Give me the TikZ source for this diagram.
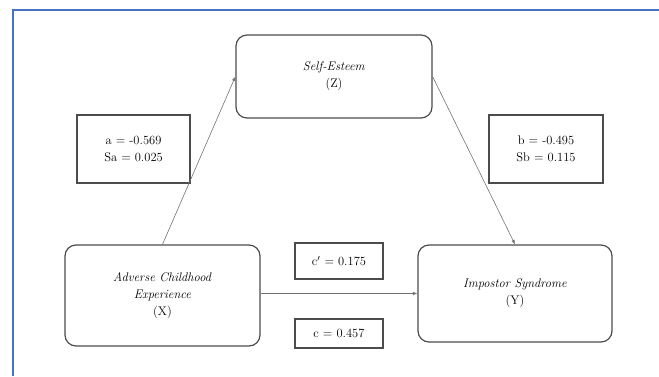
\documentclass[tikz,border=0pt]{standalone}
\usetikzlibrary{arrows.meta,positioning}
\definecolor{frameblue}{RGB}{68,114,196}
\begin{document}
\begin{tikzpicture}[
x=1pt, y=-1pt,
font=\fontsize{12.5}{17}\selectfont,
var/.style={draw=black!70, line width=1.2pt, rounded corners=11pt, align=center, inner sep=0pt},
coef/.style={draw=black!70, line width=1.2pt, align=center, inner sep=0pt},
arrow/.style={-{Latex[length=4.5pt,width=3.5pt]}, draw=black!55, line width=0.6pt}
]
\useasboundingbox (0,0) rectangle (659,376);
\draw[frameblue, line width=2pt] (13,376) -- (13,10) -- (659,10);
% variables
\node[var, minimum width=196pt, minimum height=83pt] (esteem) at (334,76.5) {\textit{Self-Esteem}\\(Z)};
\node[var, minimum width=195pt, minimum height=101pt] (ace) at (162.5,295.5) {\textit{Adverse Childhood}\\\textit{Experience}\\(X)};
\node[var, minimum width=194pt, minimum height=97pt] (impostor) at (515,293.5) {\textit{Impostor Syndrome}\\(Y)};
% coefficients
\node[coef, minimum width=113pt, minimum height=68pt] (pathA) at (133.5,149) {a = -0.569\\Sa = 0.025};
\node[coef, minimum width=114pt, minimum height=68pt] (pathB) at (546,149) {b = -0.495\\Sb = 0.115};
\node[coef, minimum width=88pt, minimum height=36pt] (direct) at (339,261) {c$'$ = 0.175};
\node[coef, minimum width=88pt, minimum height=29pt] (total) at (339,333.5) {c = 0.457};
\draw[arrow] (ace.north) -- (esteem.west);
\draw[arrow] (esteem.east) -- (impostor.north);
\draw[arrow] (ace.east |- impostor.west) -- (impostor.west);
\end{tikzpicture}
\end{document}
